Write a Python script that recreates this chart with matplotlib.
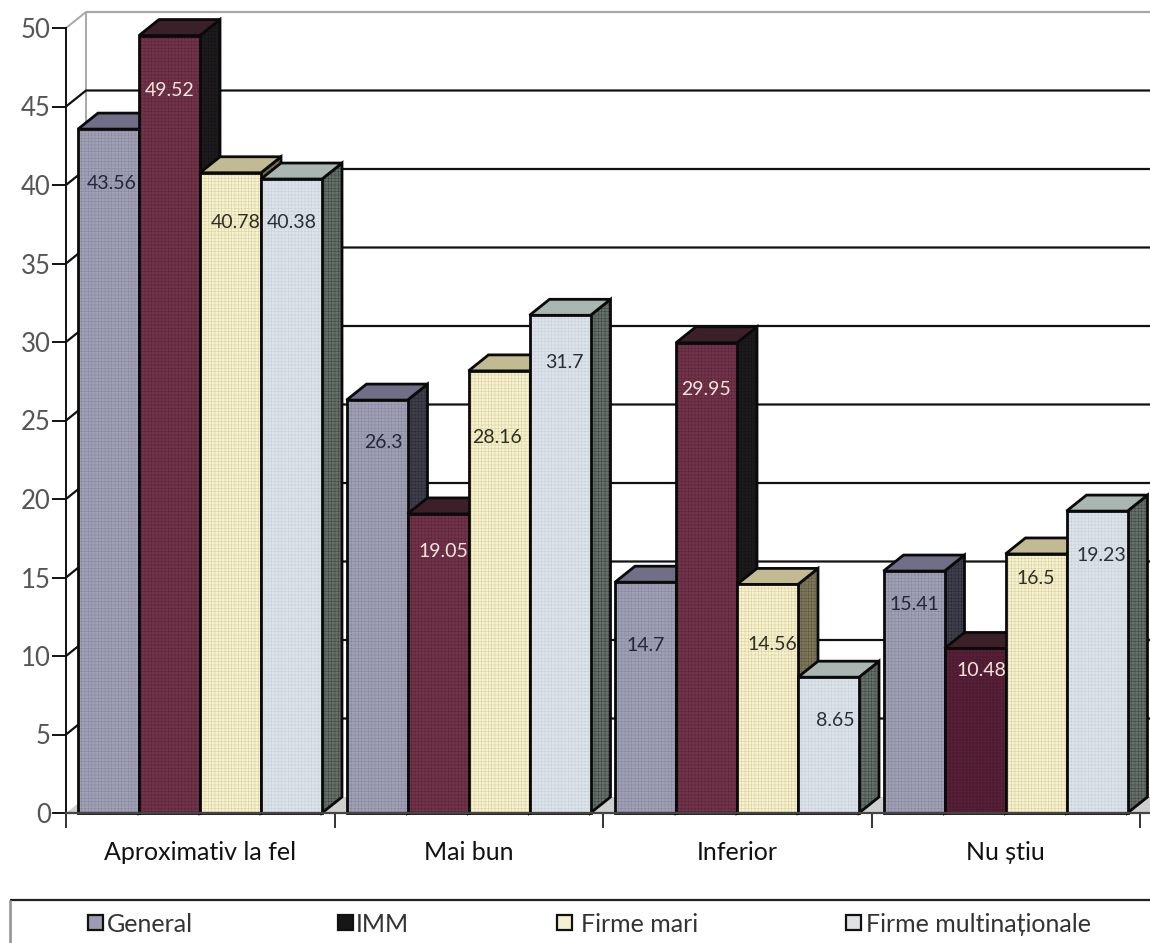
import matplotlib
matplotlib.use("Agg")
import matplotlib.pyplot as plt
from matplotlib.patches import Polygon, Rectangle

plt.rcParams['font.family'] = ['Lato', 'DejaVu Sans']
plt.rcParams['hatch.linewidth'] = 0.35

categories = ["Aproximativ la fel", "Mai bun", "Inferior", "Nu știu"]
series_names = ["General", "IMM", "Firme mari", "Firme multinaționale"]
general = [43.56, 26.3, 14.7, 15.41]
imm = [49.52, 19.05, 29.95, 10.48]
firme_mari = [40.78, 28.16, 14.56, 16.5]
multinationale = [40.38, 31.7, 8.65, 19.23]
y_ticks = [0, 5, 10, 15, 20, 25, 30, 35, 40, 45, 50]

front_colors = ["#a0a0b4", "#70334a", "#f6f1cf", "#dde3ea"]
side_colors = ["#3e3e4c", "#1d1a1c", "#7f7759", "#667069"]
side_hatch = ["#2a2a36", "#141214", "#5c5540", "#3c4440"]
top_colors = ["#6f6f87", "#3b1f29", "#c2ba92", "#aab6b1"]
hatch_colors = ["#85859c", "#5a2438", "#d8d09c", "#c8d0d8"]
text_colors = ["#26263a", "#f6e6dc", "#2e2e22", "#2a2e36"]

# label placement in pixels: drop below the bar top, shift from the bar centre
label_drop = [[54, 55, 50, 43],
              [42, 38, 67, 47],
              [63, 47, 60, 43],
              [33, 22, 25, 44]]
label_shift = [[3, 0, 5, 0],
               [6, 5, -2, 4],
               [0, 0, 5, 7],
               [0, 6, 0, 4]]

W, H = 1150, 943
X0, Y0, Y50 = 66, 813, 28
CAT_W = 268.5
BAR_W = 61
PAD = 12
DX, DY = 20, 16

fig = plt.figure(figsize=(W / 100, H / 100), dpi=100)
ax = fig.add_axes([X0 / W, 1 - Y0 / H, 1 - X0 / W, (Y0 - Y50) / H])
ax.set_xlim(0, (W - X0) / CAT_W)
ax.set_ylim(0, 50)
ax.patch.set_visible(False)

def xd(px):
    return (px - X0) / CAT_W

def yd(px):
    return (Y0 - px) / (Y0 - Y50) * 50

dx = DX / CAT_W
dy = DY / (Y0 - Y50) * 50

def line(xs, ys, color, lw, z=1):
    ax.plot(xs, ys, color=color, lw=lw, clip_on=False, zorder=z, solid_capstyle='butt')

# floor and back walls
ax.add_patch(Polygon([(0, 0), (dx, dy), (xd(W), dy), (xd(W), 0)], closed=True,
                     fc="#cfcfcf", ec="none", clip_on=False, zorder=0))
line([0, dx, dx], [50, 50 + dy, dy], "#a8a8a8", 1.4)
line([dx, xd(W)], [50 + dy, 50 + dy], "#a8a8a8", 1.6)
for t in y_ticks[1:-1]:
    line([0, dx, xd(W)], [t, t + dy, t + dy], "#111111", 1.6)

# bars, painted left to right so each front covers the previous side
values = [general, imm, firme_mari, multinationale]
for c in range(len(categories)):
    for s in range(len(series_names)):
        v = values[s][c]
        # last group's IMM bar prints darker
        face = "#4f1b33" if (s == 1 and c == 3) else front_colors[s]
        left = c + (PAD + s * BAR_W) / CAT_W
        right = left + BAR_W / CAT_W
        z = 3 + c * 10 + s
        side = [(right, 0), (right + dx, dy), (right + dx, v + dy), (right, v)]
        top = [(left, v), (left + dx, v + dy), (right + dx, v + dy), (right, v)]
        ax.add_patch(Polygon(side, closed=True, fc=side_colors[s], ec=side_hatch[s],
                             hatch="+++++", lw=0, clip_on=False, zorder=z))
        ax.add_patch(Polygon(side, closed=True, fc="none", ec="#0a0a0a", lw=2.0,
                             clip_on=False, zorder=z))
        ax.add_patch(Polygon(top, closed=True, fc=top_colors[s], ec="#0a0a0a", lw=2.0,
                             clip_on=False, zorder=z))
        ax.bar(left, v, width=BAR_W / CAT_W, align='edge', color=face, edgecolor="none",
               zorder=z, clip_on=False)
        ax.bar(left, v, width=BAR_W / CAT_W, align='edge', color="none",
               edgecolor=hatch_colors[s], hatch="+++++", lw=0, zorder=z, clip_on=False)
        ax.bar(left, v, width=BAR_W / CAT_W, align='edge', color="none", edgecolor="#0a0a0a",
               lw=2.0, zorder=z, clip_on=False)
        ax.text(left + (BAR_W / 2 + label_shift[c][s]) / CAT_W,
                v - label_drop[c][s] / (Y0 - Y50) * 50,
                f"{v:g}", ha='center', va='center', fontsize=14,
                color=text_colors[s], zorder=z + 0.5)

# axes and ticks
for side_name in ['top', 'right']:
    ax.spines[side_name].set_visible(False)
ax.spines['left'].set_color("#111111")
ax.spines['left'].set_linewidth(1.4)
ax.spines['bottom'].set_color("#444444")
ax.spines['bottom'].set_linewidth(1.6)
ax.spines['left'].set_zorder(2)
ax.spines['bottom'].set_zorder(100)
ax.set_yticks(y_ticks)
ax.tick_params(axis='y', length=10, width=1.4, color="#111111", labelsize=18.5,
               labelcolor="#555555", pad=1)
ax.set_xticks(range(len(categories) + 1))
ax.set_xticklabels([""] * (len(categories) + 1))
ax.tick_params(axis='x', length=10.5, width=1.4, color="#333333")
for i, name in enumerate(categories):
    ax.text(i + 0.5, yd(853), name, ha='center', va='center', fontsize=18, color="#111111",
            clip_on=False)

# legend strip
line([xd(10), xd(W)], [yd(900), yd(900)], "#222222", 1.6)
line([xd(10), xd(10)], [yd(900), yd(H)], "#999999", 2.0)
legend_swatch = [88, 338, 557, 846]
legend_text = [107, 356, 581, 866]
legend_face = ["#9c9cb2", "#161616", "#f3f1d2", "#dfe3e6"]
for i, name in enumerate(series_names):
    ax.add_patch(Rectangle((xd(legend_swatch[i]), yd(930)), 15 / CAT_W, yd(915) - yd(930),
                           fc=legend_face[i], ec="#111111", lw=1.6, clip_on=False))
    ax.text(xd(legend_text[i]), yd(924), name, ha='left', va='center', fontsize=18,
            color="#333333", clip_on=False)

fig.savefig("out.png", dpi=100, facecolor="white")
